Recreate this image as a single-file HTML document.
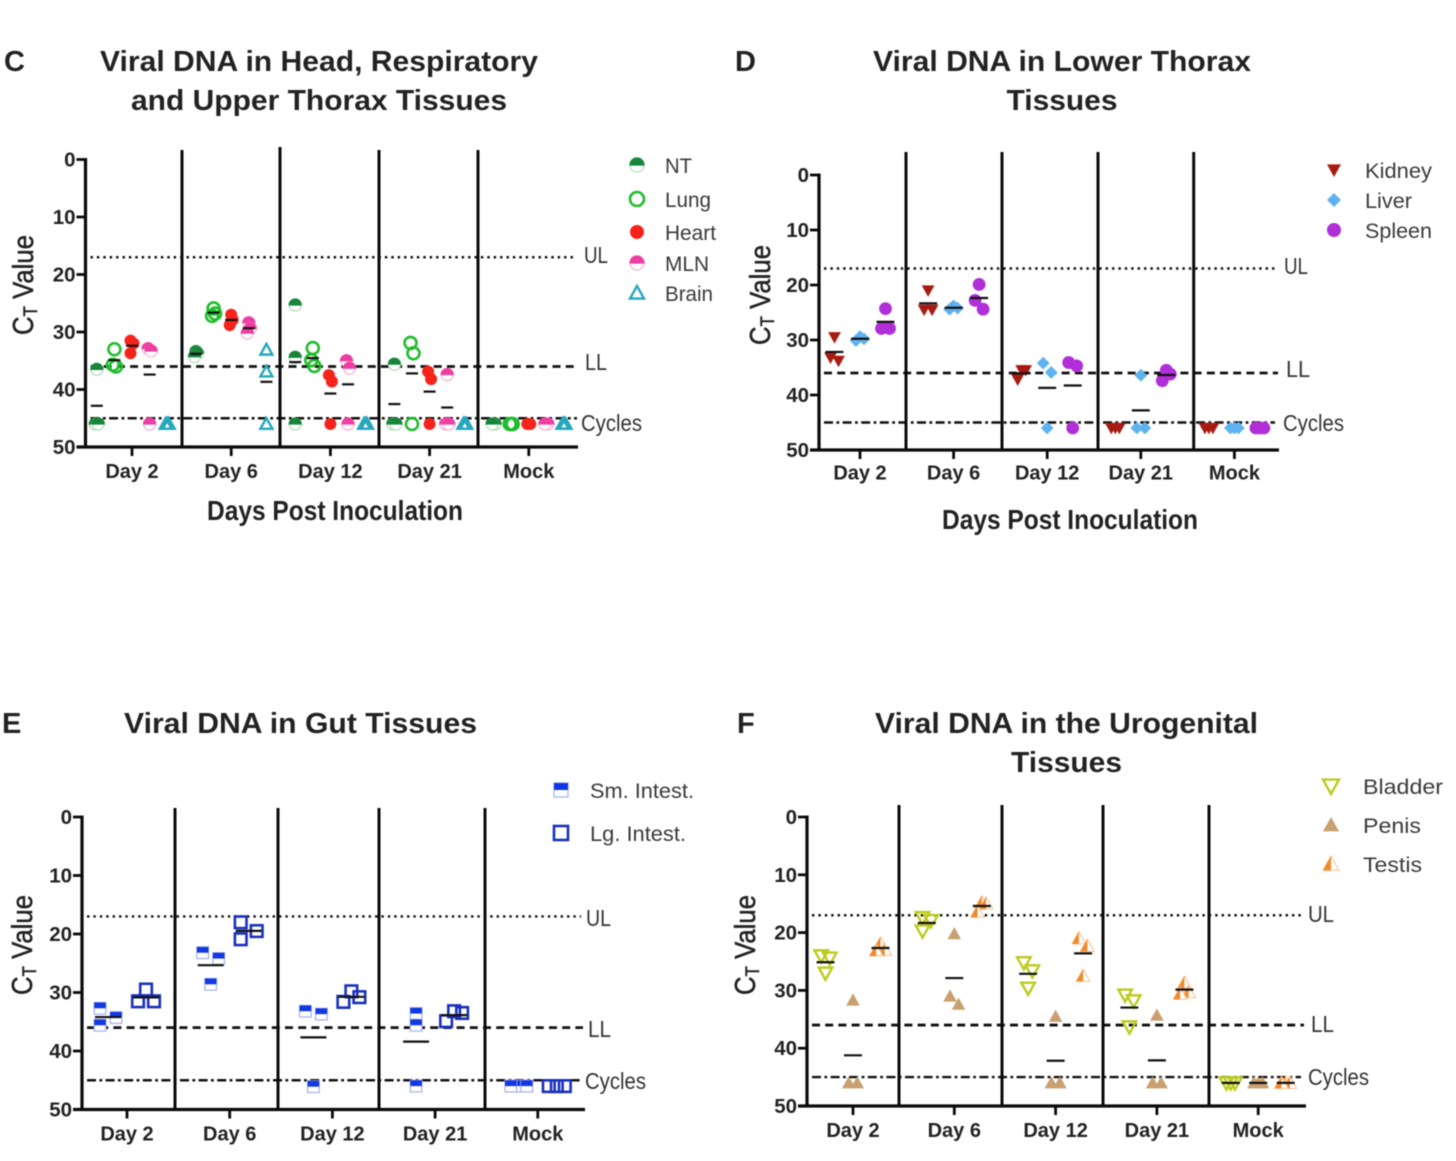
<!DOCTYPE html>
<html>
<head>
<meta charset="utf-8">
<title>Viral DNA in tissues</title>
<style>
html,body{margin:0;padding:0;background:#fff;width:1456px;height:1161px;overflow:hidden}
svg{display:block;filter:blur(0.55px);font-family:"Liberation Sans",sans-serif}
</style>
</head>
<body>
<svg id="figure" xmlns="http://www.w3.org/2000/svg" width="1456" height="1161" viewBox="0 0 1456 1161"></svg>
<script>
/* ---------- shared axis data ---------- */
const dayLabels = ['Day 2', 'Day 6', 'Day 12', 'Day 21', 'Mock'];
const yTickValues = [0, 10, 20, 30, 40, 50];
const refNames = ['UL', 'LL', 'Cycles'];
const refValues = [17, 36, 45];

/* ---------- panel C series (one inner array per day) ---------- */
const cNT    = [[36.5,46,46],[33.4,33.7,34.3],[25.3,34.4,46],[35.6,46,46],[46,46,46]];
const cLung  = [[33,35.7,36],[25.9,26.8,27.2],[32.8,34.9,35.9],[31.9,33.7,46],[46,46,46]];
const cHeart = [[31.5,32,33.7],[27,27.9,28.8],[37.5,38.6,46],[36.9,38.2,46],[46,46,46]];
const cMLN   = [[32.9,33.3,46],[28.4,29.4,30.2],[35,36.3,46],[37.4,46,46],[46,46,46]];
const cBrain = [[46,46,46],[33.1,36.9,46],[46,46,46],[46,46,46],[46,46,46]];

/* ---------- panel D series ---------- */
const dKidney = [[29.5,33.2,33.8],[21,24.5,24.5],[35.5,35.5,37.2],[46,46,46],[46,46,46]];
const dLiver  = [[29.4,29.8,30.1],[23.8,24.2,24.4],[34.2,35.9,46],[36.4,46,46],[46,46,46]];
const dSpleen = [[24.3,27.9,27.9],[19.9,22.8,24.4],[34.1,34.7,46],[35.5,36.2,37.4],[46,46,46]];

/* ---------- panel E series ---------- */
const eSmall = [[32.7,34.3,35.6],[23.2,24.2,28.6],[33.2,33.7,46.1],[33.6,35.6,46],[46,46,46]];
const eLarge = [[29.5,31.5,31.5],[18,19.5,20.9],[29.8,30.8,31.6],[33.2,33.5,34.9],[46,46,46]];

/* ---------- panel F series ---------- */
const fBladder = [[24,24.4,27],[17.4,17.9,19.7],[25.2,26.6,29.6],[30.8,31.8,36.3],[46,46,46]];
const fPenis   = [[31.7,46,46],[20.2,31,32.4],[34.5,46,46],[34.3,46,46],[46,46,46]];
const fTestis  = [[21.9,23,23.1],[14.8,15,16.4],[21,22.3,27.5],[28.7,30.3,30.6],[46,46,46]];

const svg = document.getElementById('figure');
const NS = 'http://www.w3.org/2000/svg';

function make(tag, parent, attrs) {
  const el = document.createElementNS(NS, tag);
  for (const k in attrs) el.setAttribute(k, attrs[k]);
  parent.appendChild(el);
  return el;
}

function label(parent, str, x, y, size, weight, anchor, fill, width) {
  const attrs = {x: x, y: y, 'font-size': size, 'font-weight': weight, 'text-anchor': anchor, fill: fill};
  if (width) { attrs.textLength = width; attrs.lengthAdjust = 'spacingAndGlyphs'; }
  const el = make('text', parent, attrs);
  el.textContent = str;
  return el;
}

/* Greedy beeswarm, driven only by the values */
function swarm(values, spread, gap) {
  const sorted = values.slice().sort((a, b) => a - b);
  const out = [];
  let cluster = [];
  const flush = () => {
    const placed = [];
    cluster.forEach(v => {
      const cand = [0, spread / 2, -spread / 2];
      let off = cand.find(c => !placed.some(p => p.off === c && Math.abs(p.v - v) < gap));
      if (off === undefined) off = 0;
      placed.push({v: v, off: off});
    });
    const cols = Array.from(new Set(placed.map(p => p.off)));
    if (cols.length === 2) {
      const lo = Math.min(cols[0], cols[1]);
      placed.forEach(p => { p.off = p.off === lo ? -spread / 2 : spread / 2; });
    }
    placed.forEach(p => out.push(p));
    cluster = [];
  };
  sorted.forEach(v => {
    if (cluster.length && v - cluster[cluster.length - 1] >= gap) flush();
    cluster.push(v);
  });
  flush();
  return out;
}

function triPts(cx, cy, r, dir) {
  const a = cy - dir * r, b = cy + dir * r * 0.8;
  return cx + ',' + a + ' ' + (cx - r) + ',' + b + ' ' + (cx + r) + ',' + b;
}

function marker(parent, type, cx, cy, r, color) {
  const g = make('g', parent, {});
  if (type === 'halfCircle') {
    make('circle', g, {cx: cx, cy: cy, r: r, fill: '#fff', stroke: color[1], 'stroke-width': 1.3});
    make('path', g, {d: 'M' + (cx - r) + ' ' + cy + 'A' + r + ' ' + r + ' 0 0 1 ' + (cx + r) + ' ' + cy + 'Z', fill: color[0], stroke: color[0], 'stroke-width': 1.2});
  } else if (type === 'ring') {
    make('circle', g, {cx: cx, cy: cy, r: r, fill: 'none', stroke: color, 'stroke-width': 2.6});
  } else if (type === 'dot') {
    make('circle', g, {cx: cx, cy: cy, r: r, fill: color});
  } else if (type === 'triOpen') {
    make('polygon', g, {points: triPts(cx, cy, r, 1), fill: 'none', stroke: color, 'stroke-width': 2.4});
  } else if (type === 'triDownOpen') {
    make('polygon', g, {points: triPts(cx, cy, r, -1), fill: 'none', stroke: color, 'stroke-width': 2.4});
  } else if (type === 'triDown') {
    make('polygon', g, {points: triPts(cx, cy, r, -1), fill: color});
  } else if (type === 'tri') {
    make('polygon', g, {points: triPts(cx, cy, r, 1), fill: color});
  } else if (type === 'triHalf') {
    make('polygon', g, {points: triPts(cx, cy, r, 1), fill: '#fff', stroke: '#f7c08a', 'stroke-width': 1});
    make('polygon', g, {points: cx + ',' + (cy - r) + ' ' + (cx - r) + ',' + (cy + r * 0.8) + ' ' + cx + ',' + (cy + r * 0.8), fill: color});
  } else if (type === 'diamond') {
    make('polygon', g, {points: cx + ',' + (cy - r) + ' ' + (cx + r) + ',' + cy + ' ' + cx + ',' + (cy + r) + ' ' + (cx - r) + ',' + cy, fill: color});
  } else if (type === 'squareHalf') {
    make('rect', g, {x: cx - r, y: cy - r, width: 2 * r, height: 2 * r, fill: '#fff', stroke: color[1], 'stroke-width': 1.3});
    make('rect', g, {x: cx - r, y: cy - r, width: 2 * r, height: r, fill: color[0]});
  } else if (type === 'squareOpen') {
    make('rect', g, {x: cx - r, y: cy - r, width: 2 * r, height: 2 * r, fill: 'none', stroke: color, 'stroke-width': 2.6});
  }
  return g;
}

function drawPanel(p) {
  const panel = make('g', svg, {});
  
  
  const y = v => p.y0 + (v / 50) * (p.y50 - p.y0);
  const x = i => p.xFirst + i * p.xStep;

  /* reference lines */
  const dashes = ['2.4 4', '8 5.2', '9 3.4 2.8 3.4'];
  const widths = [2.4, 2.8, 2.4];
  refValues.forEach((v, i) => {
    const ln = make('line', panel, {x1: p.axisX + 5, x2: p.refEnd[i], y1: y(v), y2: y(v), stroke: '#111', 'stroke-width': widths[i], 'stroke-dasharray': dashes[i]});
    
    
    const t = label(panel, refNames[i], p.refLabelX[i], p.refLabelY[i] + 8, 23, 400, 'start', '#333', p.refLabelW[i]);
    
    
  });

  /* group separators */
  p.seps.forEach((sx, i) => {
    const ln = make('line', panel, {x1: sx, x2: sx, y1: p.sepTops[i], y2: p.y50, stroke: '#0a0a0a', 'stroke-width': 3});
    
    
  });

  /* axes */
  const ya = make('line', panel, {x1: p.axisX, x2: p.axisX, y1: p.y0 - 1.5, y2: p.y50 + 1.5, stroke: '#0a0a0a', 'stroke-width': 3.2});
  
  
  const xa = make('line', panel, {x1: p.axisX - 9, x2: p.xEnd, y1: p.y50, y2: p.y50, stroke: '#0a0a0a', 'stroke-width': 3.2});
  
  

  yTickValues.forEach(v => {
    const tk = make('line', panel, {x1: p.axisX - 9, x2: p.axisX, y1: y(v), y2: y(v), stroke: '#0a0a0a', 'stroke-width': 2.8});
    
    
    const t = label(panel, String(v), p.axisX - 10, y(v) + 7, 20.5, 700, 'end', '#222');
    
    
  });

  dayLabels.forEach((d, i) => {
    const tk = make('line', panel, {x1: x(i), x2: x(i), y1: p.y50, y2: p.y50 + 9, stroke: '#0a0a0a', 'stroke-width': 2.8});
    
    
    const t = label(panel, d, x(i), p.y50 + p.xLabelGap, 20, 700, 'middle', '#222');
    
    
  });

  /* series */
  p.series.forEach((s, si) => {
    const sg = make('g', panel, {});
    
    
    const off = (si - (p.series.length - 1) / 2) * p.seriesStep;
    s.values.forEach((vals, di) => {
      const cx = x(di) + off;
      swarm(vals, p.spread, p.gap).forEach(pt => {
        const m = marker(sg, s.type, cx + pt.off, y(pt.v), p.r * (s.scale || 1), s.color);
        
        
      });
    });
  });

  /* mean lines */
  p.series.forEach((s, si) => {
    const off = (si - (p.series.length - 1) / 2) * p.seriesStep;
    s.values.forEach((vals, di) => {
      const flat = vals.every(v => v === vals[0]);
      if (flat && !p.flatMeans) return;
      const mean = vals.reduce((a, b) => a + b, 0) / vals.length;
      const cx = x(di) + off;
      const ln = make('line', panel, {x1: cx - p.meanW / 2, x2: cx + p.meanW / 2, y1: y(mean), y2: y(mean), stroke: '#111', 'stroke-width': 2.2});
      
      
    });
  });

  /* legend */
  p.series.forEach((s, i) => {
    const g = make('g', panel, {});
    
    
    marker(g, s.type, p.legX, p.legY[i], p.legR, s.color);
    label(g, s.label, p.legTextX, p.legY[i] + 8, 21.5, 400, 'start', '#3a3a3a', s.legW);
  });
}

const greenHalf = ['#17853a', '#b9dfbc'];
const pinkHalf = ['#ef3ea2', '#f3b7d8'];
const blueHalf = ['#1238e4', '#aab4ee'];

drawPanel({
  name: 'panel-c-chart', y0: 159.5, y50: 447, axisX: 85.5, xEnd: 578, xFirst: 132, xStep: 99.2, xLabelGap: 31,
  seps: [182, 280, 379, 478], sepTops: [150, 147, 150, 150],
  refEnd: [574, 578, 577], refLabelX: [584, 585, 581], refLabelY: [255, 362, 423], refLabelW: [24, 22, 61],
  seriesStep: 17.6, spread: 3, gap: 2, r: 6, meanW: 12,
  legX: 637, legTextX: 665, legY: [165, 199, 232, 263, 293], legR: 7,
  series: [
    {label: 'NT', values: cNT, type: 'halfCircle', color: greenHalf, legW: 27},
    {label: 'Lung', values: cLung, type: 'ring', color: '#1fbd2c', legW: 46},
    {label: 'Heart', values: cHeart, type: 'dot', color: '#f6231b', legW: 51},
    {label: 'MLN', values: cMLN, type: 'halfCircle', color: pinkHalf, legW: 44},
    {label: 'Brain', values: cBrain, type: 'triOpen', color: '#27a7bd', legW: 48}
  ]
});

drawPanel({
  name: 'panel-d-chart', y0: 175, y50: 450, axisX: 819, xEnd: 1279, xFirst: 860, xStep: 93.6, xLabelGap: 29.5,
  seps: [906, 1002, 1098, 1193.7], sepTops: [152, 152, 152, 152],
  refEnd: [1275, 1278, 1275], refLabelX: [1284, 1286, 1283], refLabelY: [266, 369, 423], refLabelW: [24, 24, 61],
  seriesStep: 25.5, spread: 8, gap: 2, r: 6.4, meanW: 18,
  legX: 1334, legTextX: 1365, legY: [170, 200, 230], legR: 7,
  series: [
    {label: 'Kidney', values: dKidney, type: 'triDown', color: '#a81b12', legW: 67},
    {label: 'Liver', values: dLiver, type: 'diamond', color: '#5fb2f0', legW: 47},
    {label: 'Spleen', values: dSpleen, type: 'dot', color: '#b02fd8', legW: 67}
  ]
});

drawPanel({
  name: 'panel-e-chart', y0: 817, y50: 1109.5, axisX: 82, xEnd: 585, xFirst: 127, xStep: 102.7, xLabelGap: 31,
  seps: [175, 278, 379, 485], sepTops: [808, 808, 808, 808],
  refEnd: [581, 583, 580], refLabelX: [586, 588, 585], refLabelY: [918, 1029, 1081], refLabelW: [25, 23, 61],
  seriesStep: 38, spread: 16, gap: 2, r: 5.8, meanW: 26,
  legX: 561, legTextX: 590, legY: [790, 833], legR: 7,
  series: [
    {label: 'Sm. Intest.', values: eSmall, type: 'squareHalf', color: blueHalf, legW: 104},
    {label: 'Lg. Intest.', values: eLarge, type: 'squareOpen', color: '#1a30bd', legW: 96}
  ]
});

drawPanel({
  name: 'panel-f-chart', y0: 817, y50: 1106, axisX: 807, xEnd: 1306, xFirst: 853, xStep: 101.3, xLabelGap: 31,
  seps: [899, 1002, 1103, 1209], sepTops: [805, 805, 805, 805],
  refEnd: [1302, 1304, 1301], refLabelX: [1308, 1311, 1308], refLabelY: [914, 1024, 1077], refLabelW: [26, 23, 61],
  seriesStep: 27.5, spread: 8.5, gap: 2, r: 6.8, meanW: 18, flatMeans: true,
  legX: 1331, legTextX: 1363, legY: [786, 825, 864], legR: 8,
  series: [
    {label: 'Bladder', values: fBladder, type: 'triDownOpen', color: '#bccb1e', legW: 80},
    {label: 'Penis', values: fPenis, type: 'tri', color: '#c9a06f', legW: 58},
    {label: 'Testis', values: fTestis, type: 'triHalf', color: '#f28a2a', legW: 59}
  ]
});

/* titles and panel letters */
function heading(str, cx, base, width) {
  const t = label(svg, str, cx, base, 29, 700, 'middle', '#222', width);
  
  
}
heading('Viral DNA in Head, Respiratory', 319, 71, 438);
heading('and Upper Thorax Tissues', 319, 110, 376);
heading('Viral DNA in Lower Thorax', 1062, 71, 378);
heading('Tissues', 1062, 110, 111);
heading('Viral DNA in Gut Tissues', 300.5, 733, 353);
heading('Viral DNA in the Urogenital', 1066.5, 733, 383);
heading('Tissues', 1066.5, 772, 111);

function letter(str, lx, base) {
  const t = label(svg, str, lx, base, 29, 700, 'start', '#222');
  
  
}
letter('C', 4, 71);
letter('D', 735, 71);
letter('E', 2, 733);
letter('F', 737, 733);

function yTitle(bx, cy) {
  const t = make('text', svg, {transform: 'translate(' + bx + ' ' + cy + ') rotate(-90)', 'text-anchor': 'middle', 'font-size': 29, fill: '#222', stroke: '#222', 'stroke-width': 0.5, textLength: 100, lengthAdjust: 'spacingAndGlyphs'});
  
  
  const a = make('tspan', t, {});
  a.textContent = 'C';
  const b = make('tspan', t, {'font-size': 19, dy: 4});
  b.textContent = 'T';
  const c = make('tspan', t, {dy: -4});
  c.textContent = ' Value';
}
yTitle(33, 285);
yTitle(770, 295);
yTitle(32, 945);
yTitle(755, 945);

function xTitle(cx, base) {
  const t = label(svg, 'Days Post Inoculation', cx, base, 28, 700, 'middle', '#222', 256);
  
  
}
xTitle(335, 520);
xTitle(1070, 529);
xTitle(333, 1184);
xTitle(1053, 1183);
</script>
</body>
</html>
